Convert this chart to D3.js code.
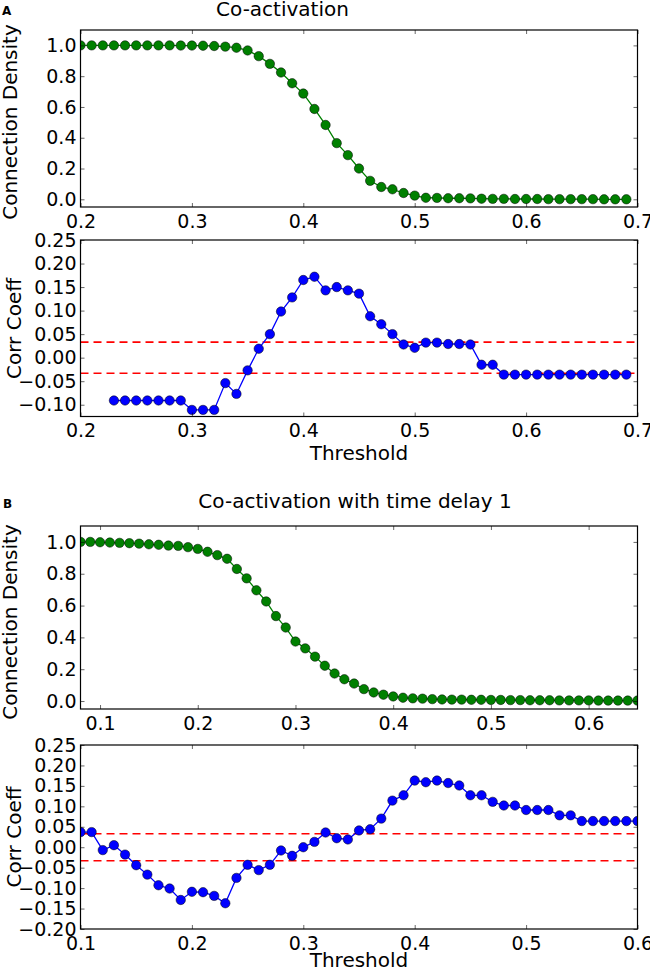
<!DOCTYPE html>
<html>
<head>
<meta charset="utf-8">
<script src="https://cdn.jsdelivr.net/npm/d3@7"></script>
<style>
  body { margin: 0; background: #fff; }
  svg text { font-family: "DejaVu Sans", sans-serif; fill: #000; }
</style>
</head>
<body>
<div id="chart"></div>
<script>
// Panel A: Co-activation
const aDensX = [0.20,0.21,0.22,0.23,0.24,0.25,0.26,0.27,0.28,0.29,0.30,0.31,0.32,0.33,0.34,0.35,0.36,0.37,0.38,0.39,
  0.40,0.41,0.42,0.43,0.44,0.45,0.46,0.47,0.48,0.49,0.50,0.51,0.52,0.53,0.54,0.55,0.56,0.57,0.58,0.59,
  0.60,0.61,0.62,0.63,0.64,0.65,0.66,0.67,0.68,0.69];
const aDensY = [1.0,1.0,1.0,1.0,1.0,1.0,1.0,1.0,1.0,0.999,0.999,0.998,0.996,0.992,0.985,0.967,0.93,0.88,0.824,0.754,
  0.687,0.587,0.483,0.365,0.287,0.2,0.12,0.08,0.065,0.041,0.024,0.01,0.009,0.007,0.007,0.006,0.004,0.003,0.003,0.002,
  0.002,0.002,0.001,0.001,0.001,0.001,0.001,0.0,0.0,0.0];
const aCorrX = [0.23,0.24,0.25,0.26,0.27,0.28,0.29,0.30,0.31,0.32,0.33,0.34,0.35,0.36,0.37,0.38,0.39,
  0.40,0.41,0.42,0.43,0.44,0.45,0.46,0.47,0.48,0.49,0.50,0.51,0.52,0.53,0.54,0.55,0.56,0.57,0.58,0.59,
  0.60,0.61,0.62,0.63,0.64,0.65,0.66,0.67,0.68,0.69];
const aCorrY = [-0.091,-0.091,-0.091,-0.091,-0.091,-0.091,-0.091,-0.111,-0.111,-0.111,-0.054,-0.077,-0.027,0.019,0.050,0.098,0.128,
  0.165,0.172,0.143,0.150,0.143,0.136,0.088,0.071,0.050,0.028,0.021,0.032,0.032,0.029,0.029,0.028,-0.015,-0.015,-0.036,-0.036,
  -0.036,-0.036,-0.036,-0.036,-0.036,-0.036,-0.036,-0.036,-0.036,-0.036];

// Panel B: Co-activation with time delay 1
const bDensX = [0.08,0.09,0.10,0.11,0.12,0.13,0.14,0.15,0.16,0.17,0.18,0.19,0.20,0.21,0.22,0.23,0.24,0.25,0.26,0.27,
  0.28,0.29,0.30,0.31,0.32,0.33,0.34,0.35,0.36,0.37,0.38,0.39,0.40,0.41,0.42,0.43,0.44,0.45,0.46,0.47,
  0.48,0.49,0.50,0.51,0.52,0.53,0.54,0.55,0.56,0.57,0.58,0.59,0.60,0.61,0.62,0.63,0.64,0.65];
const bDensY = [1.0,1.0,0.998,0.996,0.994,0.992,0.989,0.985,0.982,0.977,0.975,0.967,0.956,0.938,0.917,0.894,0.83,0.771,0.696,0.626,
  0.534,0.462,0.374,0.331,0.279,0.222,0.173,0.137,0.11,0.075,0.054,0.04,0.029,0.021,0.017,0.015,0.012,0.01,0.009,0.009,
  0.008,0.008,0.007,0.007,0.006,0.006,0.005,0.005,0.005,0.004,0.004,0.004,0.004,0.003,0.003,0.003,0.003,0.003];
const bCorrX = [0.10,0.11,0.12,0.13,0.14,0.15,0.16,0.17,0.18,0.19,0.20,0.21,0.22,0.23,0.24,0.25,0.26,0.27,0.28,0.29,
  0.30,0.31,0.32,0.33,0.34,0.35,0.36,0.37,0.38,0.39,0.40,0.41,0.42,0.43,0.44,0.45,0.46,0.47,0.48,0.49,
  0.50,0.51,0.52,0.53,0.54,0.55,0.56,0.57,0.58,0.59,0.60];
const bCorrY = [0.037,0.037,-0.007,0.005,-0.018,-0.044,-0.067,-0.093,-0.101,-0.129,-0.109,-0.110,-0.119,-0.137,-0.075,-0.043,-0.056,-0.043,-0.008,-0.021,
  0.000,0.013,0.036,0.022,0.019,0.041,0.044,0.070,0.114,0.127,0.163,0.159,0.163,0.157,0.151,0.127,0.127,0.111,0.102,0.102,
  0.091,0.091,0.091,0.078,0.078,0.064,0.064,0.064,0.064,0.064,0.064];

// significance band (dashed red lines)
const sigLevels = [0.033, -0.033];

// tick values
const aXTicks = [0.2, 0.3, 0.4, 0.5, 0.6, 0.7];
const bXTicks = [0.1, 0.2, 0.3, 0.4, 0.5, 0.6];
const densYTicks = [0.0, 0.2, 0.4, 0.6, 0.8, 1.0];
const aCorrYTicks = [-0.10, -0.05, 0.00, 0.05, 0.10, 0.15, 0.20, 0.25];
const bCorrYTicks = [-0.20, -0.15, -0.10, -0.05, 0.00, 0.05, 0.10, 0.15, 0.20, 0.25];

const W = 650, H = 972;
const left = 80.5, right = 637.5;

const svg = d3.select("#chart").append("svg")
  .attr("width", W)
  .attr("height", H);

function panel(id, top, bottom, xDomain, yDomain, xTicks, yTicks, yFmt, xs, ys, color, sig) {
  const x = d3.scaleLinear().domain(xDomain).range([left, right]);
  const y = d3.scaleLinear().domain(yDomain).range([bottom, top]);
  const pts = xs.map((v, i) => [v, ys[i]]);

  svg.append("clipPath").attr("id", id)
    .append("rect")
    .attr("x", left).attr("y", top)
    .attr("width", right - left).attr("height", bottom - top);

  const g = svg.append("g").attr("clip-path", `url(#${id})`);

  if (sig) {
    g.selectAll(".sig")
      .data(sigLevels)
      .enter().append("line")
      .attr("x1", left).attr("x2", right)
      .attr("y1", d => y(d)).attr("y2", d => y(d))
      .attr("stroke", "#ff0000")
      .attr("stroke-width", 1.6)
      .attr("stroke-dasharray", "8,5");
  }

  g.append("path")
    .datum(pts)
    .attr("fill", "none")
    .attr("stroke", color)
    .attr("stroke-width", 1.3)
    .attr("d", d3.line().x(d => x(d[0])).y(d => y(d[1])));

  g.selectAll(".dot")
    .data(pts)
    .enter().append("circle")
    .attr("cx", d => x(d[0]))
    .attr("cy", d => y(d[1]))
    .attr("r", 4.7)
    .attr("fill", color)
    .attr("stroke", "#000")
    .attr("stroke-width", 0.5);

  // axes: ticks pointing inward on all four sides
  const axes = [
    [d3.axisBottom(x).tickValues(xTicks).tickFormat(d3.format(".1f")).tickPadding(7.5), `translate(0,${bottom})`],
    [d3.axisTop(x).tickValues(xTicks).tickFormat(""), `translate(0,${top})`],
    [d3.axisLeft(y).tickValues(yTicks).tickFormat(d3.format(yFmt)).tickPadding(4), `translate(${left},0)`],
    [d3.axisRight(y).tickValues(yTicks).tickFormat(""), `translate(${right},0)`]
  ];
  axes.forEach(([ax, tr]) => {
    const a = svg.append("g")
      .attr("transform", tr)
      .call(ax.tickSize(-4).tickSizeOuter(0));
    a.select(".domain").remove();
    a.selectAll(".tick line").attr("stroke", "#000").attr("stroke-width", 0.6);
    a.selectAll(".tick text")
      .style("font-family", "DejaVu Sans")
      .style("font-size", "19px")
      .attr("fill", "#000");
  });

  svg.append("rect")
    .attr("x", left).attr("y", top)
    .attr("width", right - left).attr("height", bottom - top)
    .attr("fill", "none")
    .attr("stroke", "#000")
    .attr("stroke-width", 1.2);
}

panel("clipA1", 30, 207, [0.2, 0.7], [-0.05, 1.1], aXTicks, densYTicks, ".1f", aDensX, aDensY, "#008000", false);
panel("clipA2", 240, 416.5, [0.2, 0.7], [-0.125, 0.25], aXTicks, aCorrYTicks, ".2f", aCorrX, aCorrY, "#0000ff", true);
panel("clipB1", 526, 709, [0.08, 0.65], [-0.05, 1.1], bXTicks, densYTicks, ".1f", bDensX, bDensY, "#008000", false);
panel("clipB2", 745, 929, [0.1, 0.6], [-0.2, 0.25], bXTicks, bCorrYTicks, ".2f", bCorrX, bCorrY, "#0000ff", true);

// Titles and panel letters
svg.append("text").attr("x", 2).attr("y", 15)
  .style("font-size", "12px").style("font-weight", "bold").text("A");
svg.append("text").attr("x", 3).attr("y", 508)
  .style("font-size", "12px").style("font-weight", "bold").text("B");
svg.append("text").attr("x", 282.5).attr("y", 16).attr("text-anchor", "middle")
  .style("font-size", "20px").text("Co-activation");
svg.append("text").attr("x", 355).attr("y", 508).attr("text-anchor", "middle")
  .style("font-size", "20px").text("Co-activation with time delay 1");

// Axis labels
const yLabels = [
  ["Connection Density", 17, 122],
  ["Corr Coeff", 21, 328.5],
  ["Connection Density", 17, 622],
  ["Corr Coeff", 21, 837]
];
yLabels.forEach(([t, bx, cy]) => {
  svg.append("text")
    .attr("transform", `translate(${bx},${cy}) rotate(-90)`)
    .attr("text-anchor", "middle")
    .style("font-size", "20px")
    .text(t);
});

[460, 967].forEach(by => {
  svg.append("text")
    .attr("x", (left + right) / 2).attr("y", by)
    .attr("text-anchor", "middle")
    .style("font-size", "20px")
    .text("Threshold");
});
</script>
</body>
</html>
